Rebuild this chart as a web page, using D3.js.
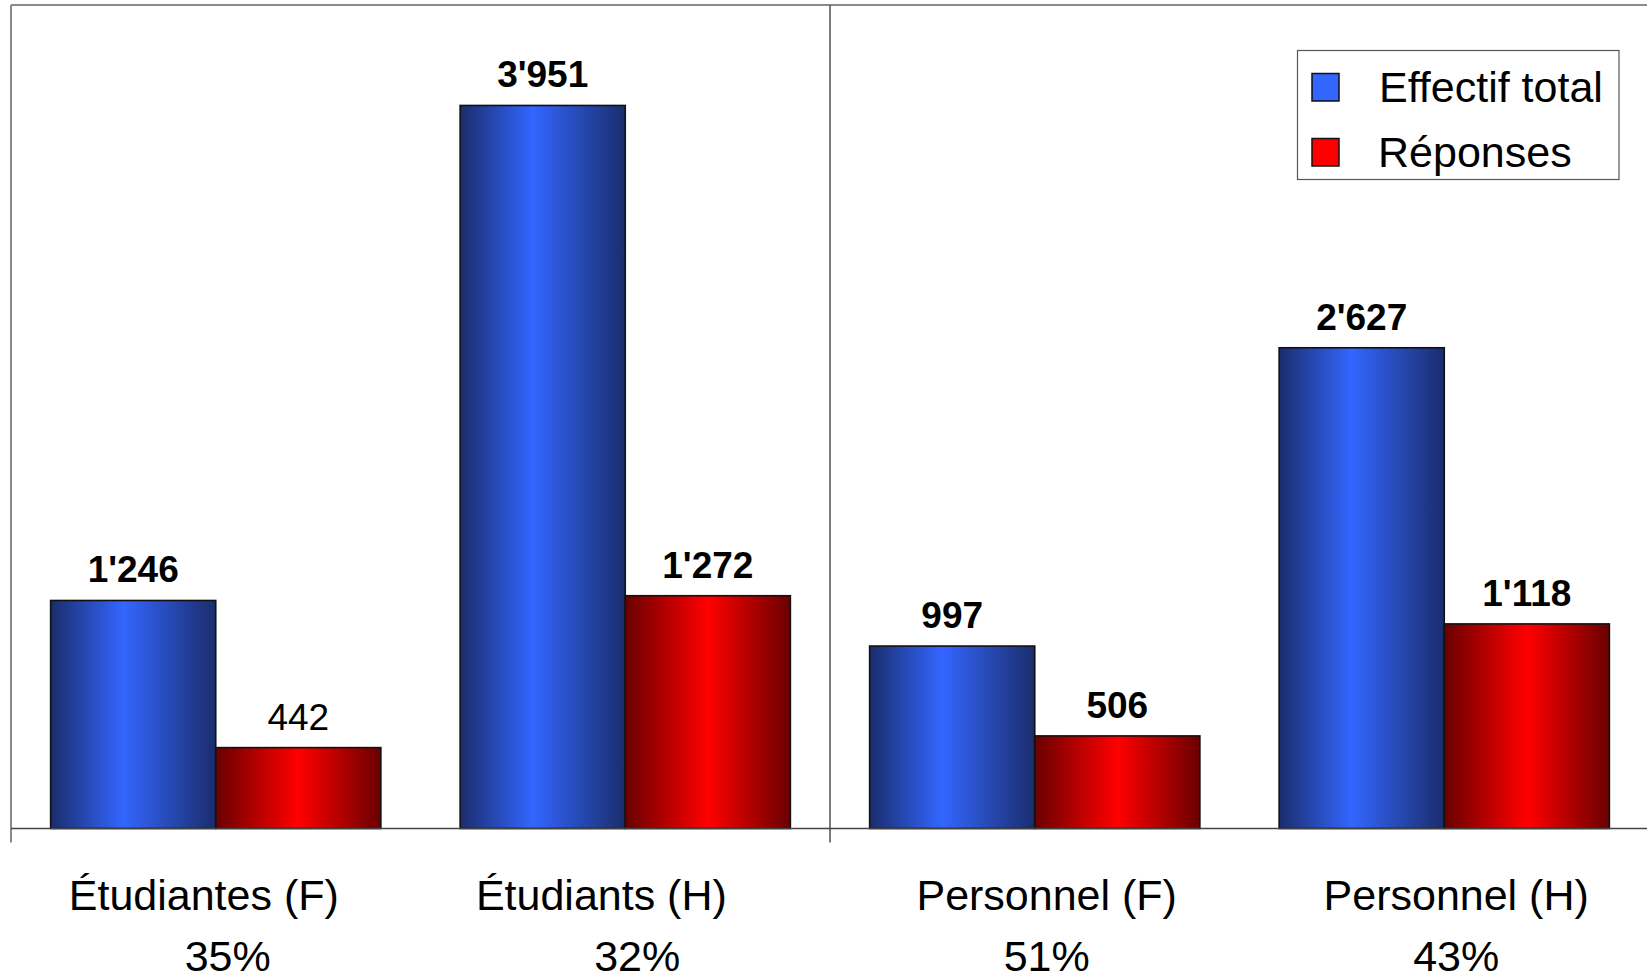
<!DOCTYPE html>
<html>
<head>
<meta charset="utf-8">
<script src="https://cdn.jsdelivr.net/npm/d3@7"></script>
<style>
  html, body { margin: 0; padding: 0; background: #fff; }
  svg { display: block; }
  text { font-family: "Liberation Sans", Arial, sans-serif; }
</style>
</head>
<body>
<svg id="chart" width="1647" height="976"></svg>
<script>
// ---- data ----
const groups = ["Étudiants", "Personnel"];
const categories = ["Étudiantes (F)  ", "Étudiants (H)    ", "  Personnel (F)", "  Personnel (H)"];
const rates = ["  35%", "  32%", "  51%", "  43%"];
const seriesNames = ["Effectif total", "Réponses"];
const effectifTotal = [1246, 3951, 997, 2627];
const reponses = [442, 1272, 506, 1118];
const yTicks = [0, 4500];

// ---- layout ----
const plotLeft = 11, plotRight = 1649, plotTop = 5, baseline = 828.5;
const svg = d3.select("#chart");

const locale = d3.formatLocale({ decimal: ".", thousands: "'", grouping: [3], currency: ["", ""] });
const fmt = locale.format(",d");

const xOuter = d3.scaleBand().domain(groups).range([plotLeft, plotRight]).padding(0);
const xCat = d3.scaleBand().domain(d3.range(categories.length)).range([plotLeft, plotRight]).padding(0);
const xSeries = d3.scaleBand().domain(d3.range(seriesNames.length))
  .range([0, xCat.bandwidth()]).paddingInner(0).paddingOuter(0.24);
const y = d3.scaleLinear().domain([yTicks[0], yTicks[1]]).range([baseline, plotTop]);

// gradients
const defs = svg.append("defs");
const gradSpecs = [
  { id: "gBlue", stops: [[0, "#1a2d6c"], [0.44, "#3366ff"], [1, "#1a2d6c"]] },
  { id: "gRed", stops: [[0, "#6a0000"], [0.5, "#ff0000"], [1, "#6a0000"]] }
];
gradSpecs.forEach(g => {
  const lgd = defs.append("linearGradient").attr("id", g.id)
    .attr("x1", "0%").attr("x2", "100%").attr("y1", "0%").attr("y2", "0%");
  g.stops.forEach(s => lgd.append("stop").attr("offset", s[0]).attr("stop-color", s[1]));
});
const fills = ["url(#gBlue)", "url(#gRed)"];
const legendFills = ["#3366ff", "#ff0000"];

// frame
const frame = svg.append("g");
frame.append("line").attr("x1", plotLeft).attr("x2", plotRight).attr("y1", plotTop).attr("y2", plotTop)
  .attr("stroke", "#8a8a8a").attr("stroke-width", 2);
frame.append("line").attr("x1", plotLeft).attr("x2", plotLeft).attr("y1", plotTop).attr("y2", baseline + 14)
  .attr("stroke", "#8a8a8a").attr("stroke-width", 2);
groups.slice(1).forEach(g => {
  frame.append("line").attr("x1", xOuter(g)).attr("x2", xOuter(g))
    .attr("y1", plotTop).attr("y2", baseline + 14)
    .attr("stroke", "#5a5a5a").attr("stroke-width", 1.6);
});

// bars
const data = [];
categories.forEach((c, i) => {
  [effectifTotal[i], reponses[i]].forEach((v, s) => data.push({ cat: i, series: s, value: v }));
});

const barW = xSeries.bandwidth();
svg.append("g").selectAll("rect").data(data).join("rect")
  .attr("x", d => xCat(d.cat) + xSeries(d.series))
  .attr("y", d => y(d.value))
  .attr("width", barW)
  .attr("height", d => baseline - y(d.value))
  .attr("fill", d => fills[d.series])
  .attr("stroke", "#111")
  .attr("stroke-width", 1.6);

// baseline
svg.append("line").attr("x1", plotLeft).attr("x2", plotRight).attr("y1", baseline).attr("y2", baseline)
  .attr("stroke", "#444").attr("stroke-width", 1.5);

// value labels
svg.append("g").selectAll("text").data(data).join("text")
  .attr("x", d => xCat(d.cat) + xSeries(d.series) + barW / 2)
  .attr("y", d => y(d.value) - 18)
  .attr("text-anchor", "middle")
  .attr("font-size", 37)
  .attr("font-weight", d => (d.cat === 0 && d.series === 1) ? "normal" : "bold")
  .attr("fill", "#000")
  .text(d => fmt(d.value));

// category labels
const catG = svg.append("g");
categories.forEach((c, i) => {
  const cx = xCat(i) + xCat.bandwidth() / 2;
  const t = catG.append("text").attr("text-anchor", "middle").attr("font-size", 43)
    .style("white-space", "pre").attr("fill", "#000");
  t.append("tspan").attr("x", cx).attr("y", 909.5).text(c);
  t.append("tspan").attr("x", cx).attr("y", 971).text(rates[i]);
});

// legend
const lg = svg.append("g");
lg.append("rect").attr("x", 1297.5).attr("y", 50.5).attr("width", 321.5).attr("height", 129)
  .attr("fill", "#fff").attr("stroke", "#555").attr("stroke-width", 1.2);
seriesNames.forEach((n, i) => {
  const yy = 73.5 + i * 65;
  lg.append("rect").attr("x", 1312).attr("y", yy).attr("width", 27).attr("height", 27.5)
    .attr("fill", legendFills[i]).attr("stroke", "#111").attr("stroke-width", 1.5);
  lg.append("text").attr("x", i === 0 ? 1379 : 1378).attr("y", yy + 28.5)
    .attr("font-size", 43).attr("fill", "#000").text(n);
});
</script>
</body>
</html>
